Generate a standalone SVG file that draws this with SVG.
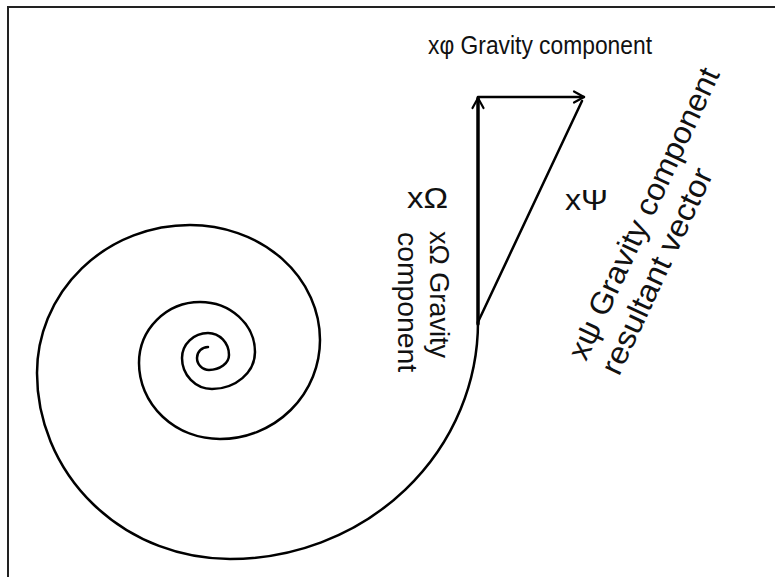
<svg xmlns="http://www.w3.org/2000/svg" width="775" height="577" viewBox="0 0 775 577">
<style>
.lbl{font-family:"Liberation Sans","DejaVu Sans",Arial,sans-serif;fill:#111;}
.ln{fill:none;stroke:#000;stroke-linecap:round;stroke-linejoin:round;}
</style>
<defs>
<marker id="ah" viewBox="0 0 14 14" refX="12" refY="7" markerWidth="14" markerHeight="14" orient="auto" markerUnits="userSpaceOnUse">
<path d="M2,1.5 L12,7 L2,12.5" fill="none" stroke="#000" stroke-width="2.2" stroke-linecap="round" stroke-linejoin="round"/>
</marker>
</defs>
<rect width="775" height="577" fill="#fff"/>
<g id="frame">
<path d="M8,577 L8,7 L775,7" fill="none" stroke="#222" stroke-width="2"/>
</g>
<g id="spiral">
<path class="ln" stroke-width="2.5" d="M478,322 A248,237 0 0 1 230,559 A193,186 0 0 1 37,373 A153,148 0 0 1 190,225 A130,115 0 0 1 320,340 A100,99 0 0 1 220,439 A81,76 0 0 1 139,363 A61,61 0 0 1 200,302 A55,50 0 0 1 255,352 A43,37 0 0 1 212,389 A30,31 0 0 1 182,358 A26,25 0 0 1 208,333 A21,22 0 0 1 229,355 A20,15 0 0 1 209,370 A12,12 0 0 1 197,358 A11,11 0 0 1 208,347"/>
</g>
<g id="connectors">
<line class="ln" x1="478" y1="324" x2="478" y2="98" stroke-width="3.5" marker-end="url(#ah)"/>
<line class="ln" x1="478" y1="97" x2="584" y2="97" stroke-width="2.5" marker-end="url(#ah)"/>
<line class="ln" x1="478" y1="322" x2="582" y2="101" stroke-width="2.5"/>
</g>
<g id="label-phi">
<text class="lbl" x="428" y="54" font-size="25" textLength="224" lengthAdjust="spacingAndGlyphs">xφ Gravity component</text>
</g>
<g id="label-omega">
<text class="lbl" x="407" y="208" font-size="30" textLength="41" lengthAdjust="spacingAndGlyphs">xΩ</text>
</g>
<g id="label-psi">
<text class="lbl" x="565" y="210" font-size="30" textLength="43" lengthAdjust="spacingAndGlyphs">xΨ</text>
</g>
<g id="label-omega-component">
<text class="lbl" font-size="27" transform="translate(430,231) rotate(90)" textLength="127" lengthAdjust="spacingAndGlyphs">xΩ Gravity</text>
<text class="lbl" font-size="27" transform="translate(398,232) rotate(90)" textLength="140" lengthAdjust="spacingAndGlyphs">component</text>
</g>
<g id="label-resultant">
<text class="lbl" font-size="31" transform="translate(586,362) rotate(-65)" textLength="318" lengthAdjust="spacingAndGlyphs">xψ Gravity component</text>
<text class="lbl" font-size="31" transform="translate(619,377) rotate(-65)" textLength="224" lengthAdjust="spacingAndGlyphs">resultant vector</text>
</g>
</svg>
